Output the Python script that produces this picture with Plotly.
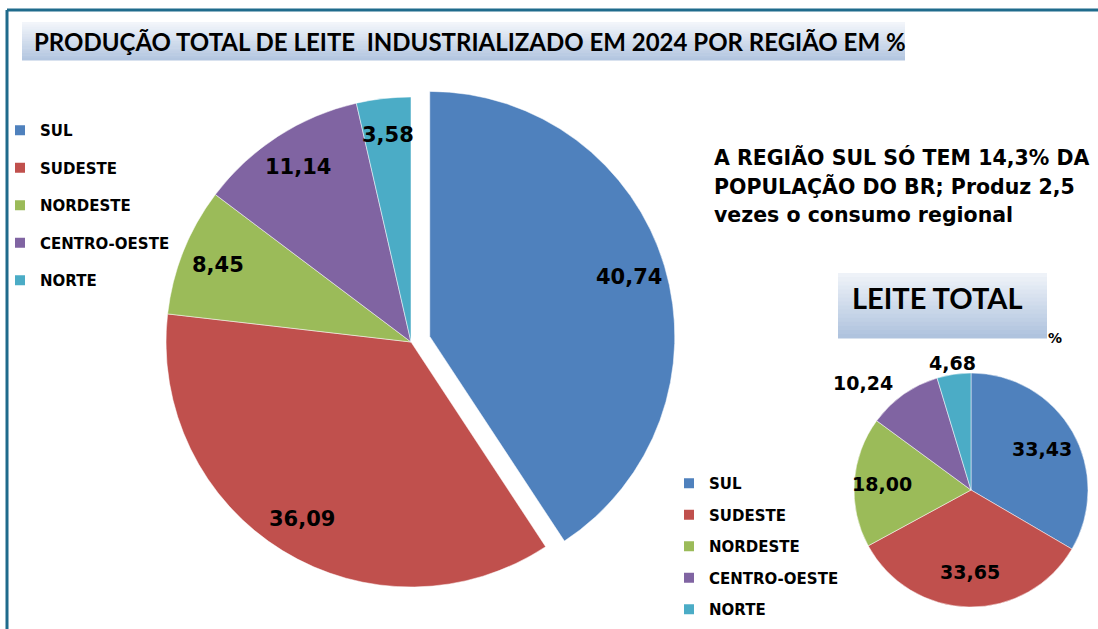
import math
import plotly.graph_objects as go

# dados
regioes = ['SUL', 'SUDESTE', 'NORDESTE', 'CENTRO-OESTE', 'NORTE']
industrializado = [40.74, 36.09, 8.45, 11.14, 3.58]
leite_total = [33.43, 33.65, 18.00, 10.24, 4.68]
cores = ['#4F81BD', '#C0504D', '#9BBB59', '#8064A2', '#4BACC6']

titulo = 'PRODUÇÃO TOTAL DE LEITE\u00a0 INDUSTRIALIZADO EM 2024 POR REGIÃO EM %'
nota = ['A REGIÃO SUL SÓ TEM 14,3% DA', 'POPULAÇÃO DO BR; Produz 2,5', 'vezes o consumo regional']

W, H = 1098, 629


def px(x):
    return x / W


def py(y):
    return 1 - y / H


def fmt(v):
    return f'{v:.2f}'.replace('.', ',')


def gradient_box(x0, y0, x1, y1, top, bottom, n=16):
    """faixas horizontais imitando o degradê do slide"""
    t = [int(top[i:i + 2], 16) for i in (1, 3, 5)]
    b = [int(bottom[i:i + 2], 16) for i in (1, 3, 5)]
    shapes = []
    h = (y1 - y0) / n
    for k in range(n):
        f = k / (n - 1)
        c = tuple(round(t[j] + (b[j] - t[j]) * f) for j in range(3))
        shapes.append(dict(
            type='rect', xref='paper', yref='paper', layer='below',
            x0=px(x0), x1=px(x1), y0=py(y0 + h * (k + 1) + 0.5), y1=py(y0 + h * k),
            fillcolor='rgb(%d,%d,%d)' % c, line=dict(width=0)
        ))
    return shapes


def slice_labels(values, cx, cy, r, pulls, factors, size):
    """rótulos no estilo do Excel, posicionados pelo ângulo médio de cada fatia"""
    total = sum(values)
    acc = 0
    out = []
    for v, p, k in zip(values, pulls, factors):
        mid = 2 * math.pi * (acc + v / 2) / total
        acc += v
        d = r * (k + p)
        x, y = cx + d * math.sin(mid), cy - d * math.cos(mid)
        xanchor = 'center'
        if k > 1 and abs(math.sin(mid)) > 0.3:
            xanchor = 'right' if math.sin(mid) < 0 else 'left'
        out.append(dict(
            text=fmt(v), x=px(x), y=py(y), xref='paper', yref='paper',
            xanchor=xanchor, yanchor='middle', showarrow=False,
            font=dict(family='DejaVu Sans', size=size, color='black', weight='bold')
        ))
    return out


# geometria das pizzas (pixels)
big_cx, big_cy, big_r, big_pull = 411, 342, 245, 0.08
small_cx, small_cy, small_r = 971, 490, 117
big_half = big_r * (1 + big_pull)

fig = go.Figure()

# pizza grande - leite industrializado
fig.add_trace(go.Pie(
    labels=regioes, values=industrializado,
    sort=False, direction='clockwise', rotation=0, textinfo='none',
    pull=[big_pull, 0, 0, 0, 0],
    marker=dict(colors=cores, line=dict(color='white', width=0.5)),
    domain=dict(x=[px(big_cx - big_half), px(big_cx + big_half)],
                y=[py(big_cy + big_half), py(big_cy - big_half)]),
    showlegend=False, hoverinfo='label+value'
))

# pizza pequena - leite total
fig.add_trace(go.Pie(
    labels=regioes, values=leite_total,
    sort=False, direction='clockwise', rotation=0, textinfo='none',
    marker=dict(colors=cores, line=dict(color='white', width=0.5)),
    domain=dict(x=[px(small_cx - small_r), px(small_cx + small_r)],
                y=[py(small_cy + small_r), py(small_cy - small_r)]),
    showlegend=False, hoverinfo='label+value'
))

# legendas
for leg in ['legend', 'legend2']:
    for nome, cor in zip(regioes, cores):
        fig.add_trace(go.Scatter(
            x=[None], y=[None], mode='markers', name=nome,
            marker=dict(symbol='square', size=10, color=cor),
            legendgroup=leg + nome, legend=leg, hoverinfo='skip'
        ))

legend_font = dict(family='DejaVu Sans', size=15, color='black', weight='bold')

shapes = []
shapes += gradient_box(22, 22, 905, 60, '#f2f5fa', '#b3c6e0')
shapes += gradient_box(838, 273, 1047, 338, '#eef2f8', '#afc3de')
# moldura do slide
shapes.append(dict(type='line', xref='paper', yref='paper', x0=px(7), x1=1,
                   y0=py(10), y1=py(10), line=dict(color='#1f6b8c', width=3)))
shapes.append(dict(type='line', xref='paper', yref='paper', x0=px(7), x1=px(7),
                   y0=py(10), y1=0, line=dict(color='#1f6b8c', width=3)))

annotations = [
    dict(text=titulo, x=px(32), y=py(41), xref='paper', yref='paper',
         xanchor='left', yanchor='middle', showarrow=False,
         font=dict(family='Lato', size=24, color='black', weight='bold')),
    dict(text='LEITE TOTAL', x=px(850), y=py(297), xref='paper', yref='paper',
         xanchor='left', yanchor='middle', showarrow=False,
         font=dict(family='Lato', size=29, color='black', weight='bold')),
    dict(text='%', x=px(1055), y=py(338), xref='paper', yref='paper',
         xanchor='center', yanchor='middle', showarrow=False,
         font=dict(family='DejaVu Sans', size=14, color='black', weight='bold')),
]
for i, linha in enumerate(nota):
    annotations.append(dict(
        text=linha, x=px(712), y=py(158 + 28.5 * i), xref='paper', yref='paper',
        xanchor='left', yanchor='middle', showarrow=False,
        font=dict(family='DejaVu Sans', size=20.5, color='black', weight='bold')))
annotations += slice_labels(industrializado, big_cx, big_cy, big_r,
                            [big_pull, 0, 0, 0, 0], [0.85] * 5, 21)
annotations += slice_labels(leite_total, small_cx, small_cy, small_r,
                            [0] * 5, [0.7, 0.7, 0.76, 1.12, 1.1], 19)

fig.update_layout(
    width=W, height=H,
    margin=dict(l=0, r=0, t=0, b=0),
    paper_bgcolor='white', plot_bgcolor='white',
    xaxis=dict(visible=False), yaxis=dict(visible=False),
    shapes=shapes, annotations=annotations,
    legend=dict(x=px(0), y=py(114), xanchor='left', yanchor='top',
                font=legend_font, tracegroupgap=15, bgcolor='rgba(0,0,0,0)'),
    legend2=dict(x=px(669), y=py(626), xanchor='left', yanchor='bottom',
                 font=legend_font, tracegroupgap=9, bgcolor='rgba(0,0,0,0)'),
)

fig.write_html('out.html', config={'displayModeBar': False},
               post_script="document.body.style.margin='0';")
